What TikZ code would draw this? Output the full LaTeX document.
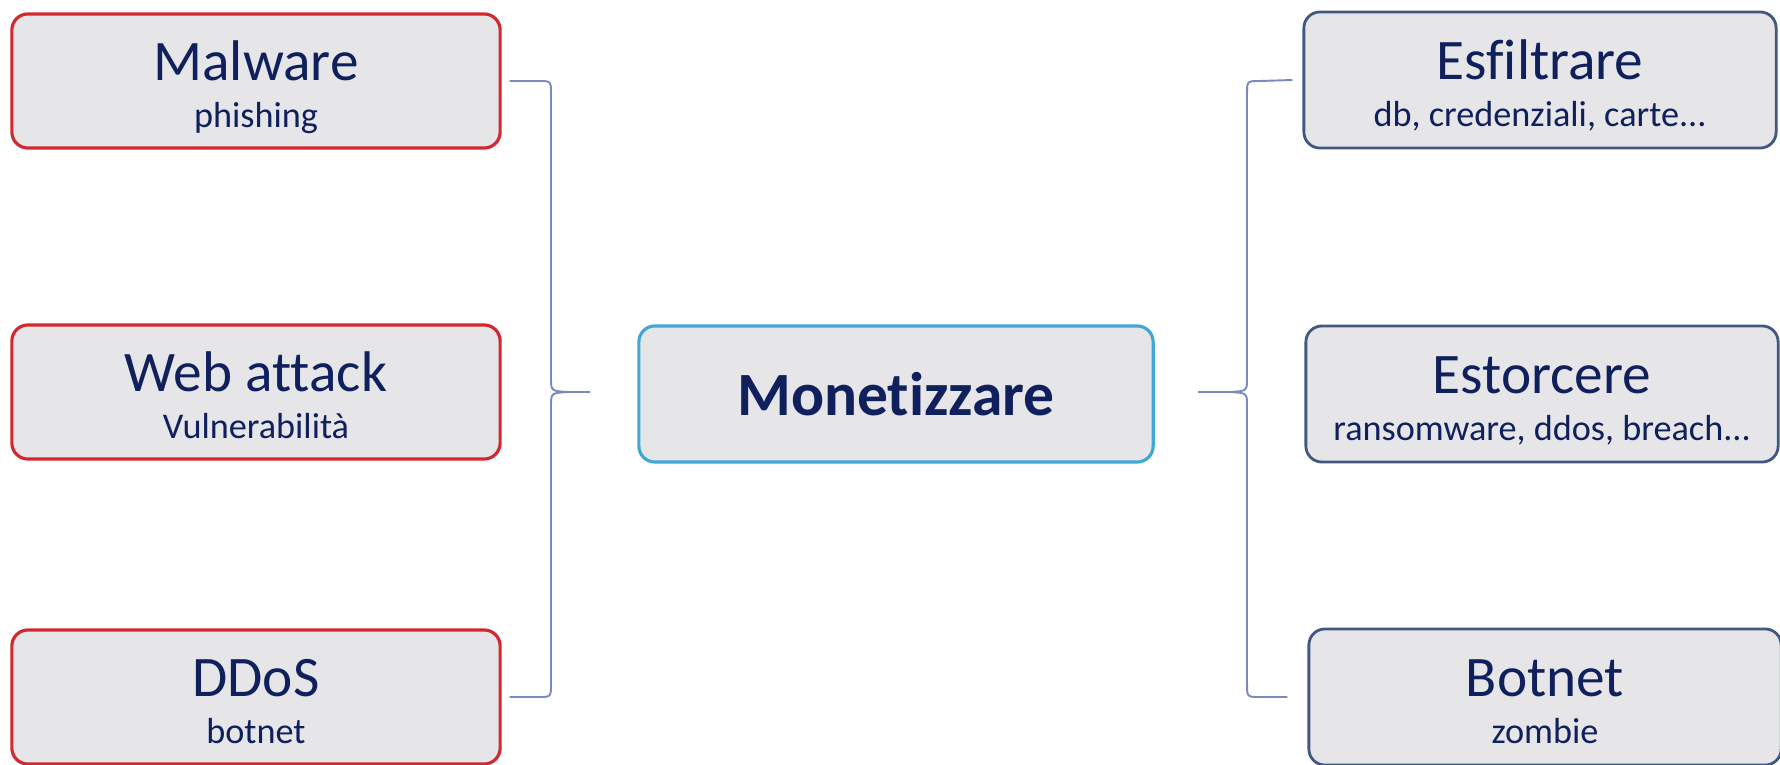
\documentclass[tikz,border=0pt]{standalone}
\usepackage{fontspec}
\setmainfont{Carlito}[Ligatures=NoCommon]
\usepackage{xcolor}
\usepackage{tikz}
\usetikzlibrary{calc}

\definecolor{boxgray}{RGB}{230,230,232}
\definecolor{attackred}{RGB}{208,42,48}
\definecolor{goalcyan}{RGB}{62,168,214}
\definecolor{outcomeblue}{RGB}{66,88,130}
\definecolor{navytext}{RGB}{16,32,92}
\definecolor{bracegray}{RGB}{122,138,188}

\newcommand{\boxtitle}{\fontsize{16.3}{18}\selectfont}
\newcommand{\boxsub}{\fontsize{10.3}{12}\selectfont}

\begin{document}
\begin{tikzpicture}[x=0.01cm, y=-0.01cm,
 every node/.style={rectangle, rounded corners=0.16cm, fill=boxgray, text=navytext, align=center, inner sep=0pt, minimum height=1.34cm, line width=0.9pt},
 attack/.style={draw=attackred, minimum width=4.88cm, text height=29.7pt, text depth=3pt},
 goal/.style={draw=goalcyan, minimum width=5.14cm, minimum height=1.36cm, font=\fontsize{17.5}{20}\selectfont\bfseries},
 outcome/.style={draw=outcomeblue, minimum width=4.72cm, minimum height=1.36cm, line width=0.8pt, text height=29.7pt, text depth=3pt},
 brace/.style={draw=bracegray, line width=0.55pt}]
\useasboundingbox[fill=white] (0,0) rectangle (1780,764);

\node(malware)[attack] at (256,81) {\boxtitle Malware\\[1.4pt]\boxsub phishing};
\node(webattack)[attack] at (256,392) {\boxtitle Web attack\\[1.4pt]\boxsub Vulnerabilità};
\node(ddos)[attack] at (256,697) {\boxtitle DDoS\\[1.4pt]\boxsub botnet};

\node(monetizzare)[goal] at (896,394) {Monetizzare};

\node(esfiltrare)[outcome] at (1540,80) {\boxtitle Esfiltrare\\[1.4pt]\boxsub db, credenziali, carte...};
\node(estorcere)[outcome] at (1542,394) {\boxtitle Estorcere\\[1.4pt]\boxsub ransomware, ddos, breach...};
\node(botnet)[outcome] at (1545,697) {\boxtitle Botnet\\[1.4pt]\boxsub zombie};

\coordinate (ltip) at (590,392);
\coordinate (rtip) at (1198,392);

\draw[brace] ([xshift=0.08cm]malware.east) -- (538,81) .. controls (551,81) .. (551,94) -- (551,378) .. controls (551,391) .. (568,392) -- (ltip);
\draw[brace] ([xshift=0.08cm]ddos.east) -- (538,697) .. controls (551,697) .. (551,684) -- (551,406) .. controls (551,393) .. (568,392);
\draw[brace] ([xshift=-0.1cm]esfiltrare.west) -- (1260,81) .. controls (1247,81) .. (1247,94) -- (1247,378) .. controls (1247,391) .. (1230,392) -- (rtip);
\draw[brace] ([xshift=-0.2cm]botnet.west) -- (1260,697) .. controls (1247,697) .. (1247,684) -- (1247,406) .. controls (1247,393) .. (1230,392);
\end{tikzpicture}
\end{document}
